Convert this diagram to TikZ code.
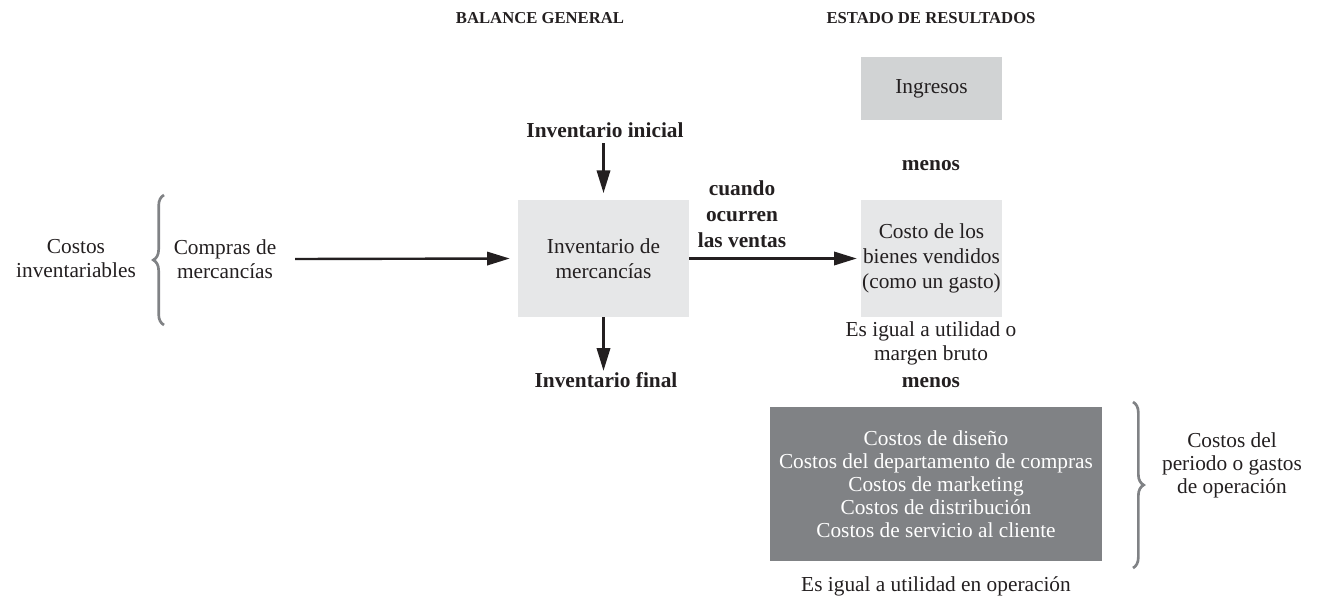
\documentclass[tikz,border=0pt]{standalone}
\usepackage{fontspec}
\setmainfont{Liberation Serif}
\usetikzlibrary{arrows.meta,decorations.pathreplacing}
\definecolor{lightbox}{HTML}{E6E7E8}
\definecolor{midbox}{HTML}{D1D3D4}
\definecolor{darkbox}{HTML}{808285}
\definecolor{ink}{HTML}{231F20}
\begin{document}
\begin{tikzpicture}[x=0.75pt,y=-0.75pt,
  txt/.style={align=center,font=\fontsize{16}{18}\selectfont,text=ink,inner sep=0pt},
  btxt/.style={align=center,font=\fontsize{16}{19.5}\selectfont\bfseries,text=ink,inner sep=0pt},
  head/.style={align=center,font=\fontsize{12.5}{15}\selectfont\bfseries,text=ink,inner sep=0pt},
  lbox/.style={fill=lightbox,align=center,font=\fontsize{16}{19}\selectfont,text=ink,inner sep=0pt},
  dbox/.style={fill=darkbox,align=center,font=\fontsize{16}{17.25}\selectfont,text=white,inner sep=0pt},
  arr/.style={-{Triangle[length=17pt,width=10pt]},line width=1.8pt,draw=ink},
  brc/.style={decorate,decoration={brace,amplitude=8pt},draw=darkbox,line width=2pt}
]
\useasboundingbox (0,0) rectangle (1332,603);

% headers
\node[head] (hbal) at (540,18) {BALANCE GENERAL};
\node[head] (hest) at (931,18) {ESTADO DE RESULTADOS};

% income statement column
\node[lbox,fill=midbox,minimum width=105.75pt,minimum height=47.25pt] (ing) at (931.5,88.5) {Ingresos};
\node[btxt] (menos1) at (931,166) {menos};
\node[lbox,minimum width=105.75pt,minimum height=87.75pt] (cbv) at (931.5,258.5) {Costo de los\\bienes vendidos\\(como un gasto)};
\node[txt] (bruto) at (931,343) {Es igual a utilidad o\\margen bruto};
\node[btxt] (menos2) at (931,383) {menos};
\node[dbox,minimum width=249pt,minimum height=115.5pt] (dark) at (936,484) {Costos de diseño\\Costos del departamento de compras\\Costos de marketing\\Costos de distribución\\Costos de servicio al cliente};
\node[txt] (operac) at (936,586) {Es igual a utilidad en operación};
\node[txt,font=\fontsize{16}{17.25}\selectfont] (periodo) at (1232,465) {Costos del\\periodo o gastos\\de operación};
\coordinate (rb1) at (1133,402);
\coordinate (rb2) at (1133,568);
\draw[brc] (rb1) -- (rb2);

% balance sheet column
\node[lbox,minimum width=128.25pt,minimum height=87.75pt] (inv) at (603.5,258.5) {Inventario de\\mercancías};
\node[btxt] (inicial) at (605,130) {Inventario inicial};
\node[btxt] (final) at (606,380) {Inventario final};
\node[btxt] (cuando) at (742,214) {cuando\\ocurren\\las ventas};

% left side
\node[txt] (inventariables) at (76,259) {Costos\\inventariables};
\node[txt] (compras) at (225,259) {Compras de\\mercancías};
\coordinate (lb1) at (164,325);
\coordinate (lb2) at (164,195);
\draw[brc] (lb1) -- (lb2);

% arrows
\draw[arr] ([xshift=14pt]compras.east) -- ([xshift=-6pt]inv.west);
\draw[arr,shorten <=4pt,shorten >=5pt] (inv.north |- inicial.south) -- (inv.north);
\draw[arr,shorten >=1pt] (inv.south) -- (inv.south |- final.north);
\draw[arr,shorten >=3pt] (inv.east) -- (cbv.west);
\end{tikzpicture}
\end{document}
